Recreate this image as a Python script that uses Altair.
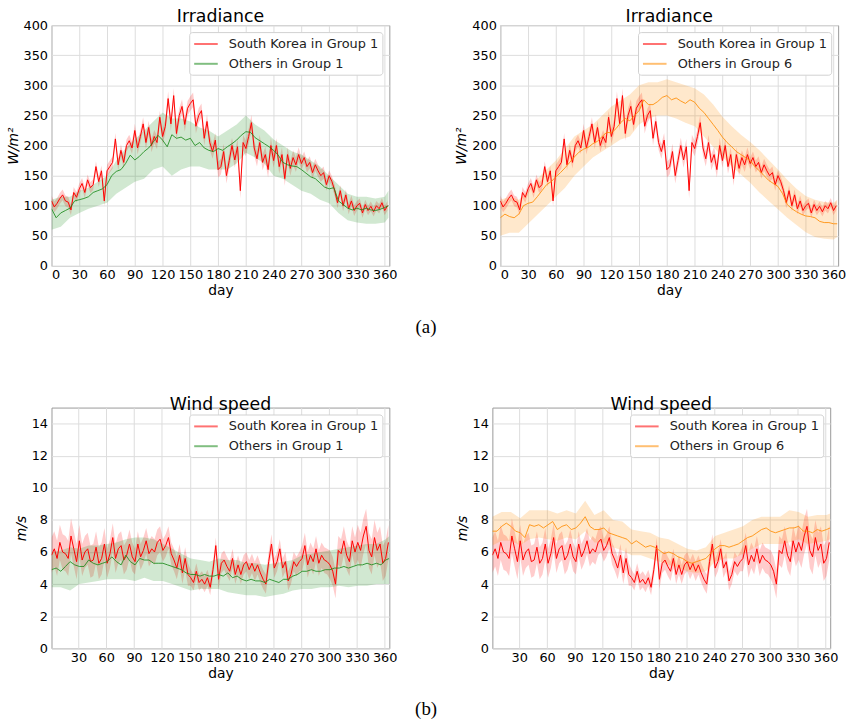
import altair as alt
import pandas as pd

SK = "South Korea in Group 1"
G1 = "Others in Group 1"
G6 = "Others in Group 6"

# ---------------- Irradiance (W/m^2) ----------------
# South Korea, every 3 days from day 0
irr_sk = [108, 98, 104, 112, 118, 108, 106, 93, 122, 114, 128, 137, 122, 143, 130, 135,
          165, 140, 158, 108, 158, 165, 172, 211, 168, 192, 172, 200, 208, 196, 225, 196,
          215, 236, 205, 230, 200, 215, 205, 247, 215, 232, 278, 236, 283, 220, 250, 265,
          235, 262, 270, 276, 232, 250, 258, 212, 240, 205, 190, 209, 160,
          165, 190, 150, 175, 200, 176, 198, 125, 205, 195, 215, 238, 196, 178, 205, 172,
          185, 160, 200, 175, 200, 165, 185, 145, 185, 162, 180, 168, 185, 170, 180, 165,
          172, 155, 168, 158, 150, 155, 135, 150, 140, 125, 105, 125, 100, 118, 95, 108,
          92, 100, 104, 88, 102, 92, 99, 90, 100, 95, 105, 92, 100]
# half width of the South Korea band, by 30-day block
irr_sk_hw = [9, 9, 10, 11, 12, 12, 13, 13, 12, 10, 9, 8, 8]

# Others in Group 1, every 5 days (0..360) and day 364
irr_g1 = [95, 80, 88, 92, 96, 108, 110, 112, 115, 122, 125, 128, 135, 150, 157, 160,
          170, 184, 176, 182, 190, 196, 206, 217, 209, 198, 218, 212, 214, 209, 212, 200,
          205, 196, 192, 190, 195, 192, 198, 203, 209, 217, 223, 222, 213, 208, 203, 198,
          192, 184, 172, 168, 166, 165, 160, 154, 148, 145, 138, 131, 128, 130, 108, 102,
          96, 93, 96, 93, 96, 93, 92, 94, 97, 100]
# Group 1 band, every 10 days (0..360) and day 364
irr_g1_lo = [60, 65, 80, 88, 95, 100, 105, 120, 130, 140, 145, 160, 165, 150, 160, 165,
             165, 160, 160, 160, 170, 188, 180, 170, 150, 145, 135, 125, 120, 110, 104,
             88, 76, 72, 70, 70, 72, 80]
irr_g1_hi = [110, 115, 115, 125, 130, 140, 150, 175, 195, 210, 225, 240, 255, 245, 245,
             240, 230, 225, 215, 225, 235, 250, 235, 225, 210, 200, 190, 185, 175, 165,
             150, 135, 120, 115, 115, 112, 115, 125]

# Others in Group 6, every 5 days (0..360) and day 364
irr_g6 = [80, 86, 82, 80, 86, 100, 104, 106, 115, 125, 135, 140, 148, 155, 163, 172,
          181, 189, 194, 197, 203, 207, 215, 222, 221, 228, 238, 245, 241, 250, 258, 276,
          268, 268, 273, 280, 283, 276, 279, 274, 270, 276, 272, 262, 255, 245, 235, 225,
          214, 205, 198, 190, 185, 180, 175, 165, 158, 150, 142, 137, 132, 120, 102, 95,
          90, 86, 83, 82, 80, 74, 72, 72, 70, 70]
irr_g6_lo = [50, 55, 55, 70, 85, 100, 115, 130, 150, 165, 180, 190, 200, 210, 215, 235,
             245, 250, 250, 245, 238, 232, 215, 198, 181, 165, 152, 138, 122, 108, 94,
             80, 68, 56, 48, 45, 44, 48]
irr_g6_hi = [110, 115, 110, 125, 145, 160, 175, 195, 215, 225, 235, 250, 265, 275, 285,
             300, 305, 305, 310, 305, 300, 295, 285, 268, 248, 232, 218, 206, 192, 176,
             160, 143, 128, 116, 110, 106, 105, 110]

# ---------------- Wind speed (m/s) ----------------
# South Korea, every 3 days from day 1
wind_sk = [5.8, 6.2, 5.6, 6.6, 6.0, 5.9, 5.6, 7.0, 6.2, 5.4, 6.7, 5.5, 6.0, 6.2, 5.4,
           5.5, 6.3, 5.3, 5.6, 6.5, 5.3, 5.9, 6.9, 5.6, 6.2, 6.4, 5.5, 5.8, 6.5, 5.7, 5.4,
           6.5, 5.7, 6.1, 6.7, 5.9, 6.2, 6.0, 6.6, 6.8, 6.1, 6.4, 6.9, 5.9, 5.5, 5.0, 5.8,
           4.7, 5.6, 4.6, 4.4, 4.1, 4.8, 4.1, 4.3, 4.0, 4.4, 3.8, 4.9, 6.4, 4.3, 5.3,
           5.5, 5.1, 4.8, 5.6, 4.6, 5.2, 4.6, 5.2, 5.4, 4.9, 5.3, 4.8, 5.2, 4.7, 4.3, 4.0,
           5.4, 6.5, 5.0, 5.4, 6.2, 5.0, 5.4, 4.2, 4.6, 5.4, 5.1, 5.4, 5.6, 6.4, 5.2, 5.8,
           5.4, 6.2, 5.3, 5.8, 5.5, 5.4, 5.2, 4.8, 4.0, 6.1, 5.9, 6.7, 5.8, 5.4, 6.7, 6.0,
           6.6, 6.1, 7.0, 7.6, 6.1, 5.7, 6.9, 6.1, 6.5, 5.3, 5.6, 6.6]
wind_sk_hw = [1.1, 1.0, 0.9, 0.8, 0.7, 0.5, 0.6, 0.6, 0.6, 0.8, 0.9, 1.1, 1.1]

# Others in Group 1, every 5 days from day 1 (1..361) and day 365
wind_g1 = [4.9, 5.0, 4.8, 5.1, 5.4, 5.2, 5.1, 5.1, 5.5, 5.3, 5.2, 5.3, 5.4, 5.7, 5.4,
           5.2, 5.8, 5.4, 5.2, 5.6, 5.5, 5.5, 5.3, 5.3, 5.3, 5.2, 5.1, 5.0, 4.9, 4.7, 4.6,
           4.6, 4.5, 4.6, 4.5, 4.5, 4.6, 4.5, 4.7, 4.4, 4.5, 4.3, 4.2, 4.3, 4.2, 4.2, 4.1,
           4.3, 4.2, 4.1, 4.3, 4.3, 4.5, 4.6, 4.8, 4.8, 4.9, 4.8, 4.8, 4.9, 4.9, 5.0, 5.0,
           5.1, 5.0, 5.1, 5.2, 5.2, 5.3, 5.2, 5.3, 5.2, 5.5, 5.6]
wind_g1_lo = [3.8, 3.8, 3.6, 4.0, 4.1, 4.2, 4.3, 4.3, 4.3, 4.2, 4.4, 4.2, 4.2, 4.0, 3.8,
              3.6, 3.7, 3.7, 3.7, 3.5, 3.4, 3.3, 3.3, 3.2, 3.3, 3.4, 3.6, 3.7, 3.7, 3.8,
              3.8, 3.9, 3.8, 3.9, 3.9, 4.0, 4.0, 4.0]
wind_g1_hi = [6.0, 6.1, 6.3, 6.2, 6.4, 6.4, 6.5, 6.6, 6.8, 6.9, 6.9, 6.8, 6.5, 6.2, 5.9,
              5.6, 5.5, 5.4, 5.6, 5.5, 5.5, 5.3, 5.3, 5.2, 5.3, 5.4, 5.5, 5.8, 5.9, 6.0,
              6.1, 6.2, 6.3, 6.4, 6.5, 6.5, 6.8, 7.0]

# Others in Group 6
wind_g6 = [7.3, 7.3, 7.6, 7.8, 7.6, 7.3, 7.2, 6.9, 7.7, 7.6, 7.7, 7.5, 7.7, 7.9, 7.4,
           7.6, 7.7, 7.4, 7.5, 7.8, 8.2, 7.6, 7.4, 7.4, 7.5, 7.2, 7.1, 7.0, 6.9, 6.8, 6.5,
           6.7, 6.5, 6.3, 6.4, 6.3, 6.1, 5.9, 6.0, 5.9, 5.7, 5.6, 5.4, 5.3, 5.4, 5.5, 5.6,
           5.9, 6.2, 6.4, 6.4, 6.3, 6.4, 6.5, 6.7, 6.9, 7.0, 7.2, 7.4, 7.5, 7.3, 7.2, 7.3,
           7.4, 7.5, 7.5, 7.6, 7.3, 7.3, 7.2, 7.4, 7.3, 7.4, 7.5]
wind_g6_lo = [6.4, 6.7, 6.7, 6.4, 6.8, 6.9, 6.8, 6.7, 6.9, 6.8, 7.3, 6.6, 6.6, 6.3, 6.1,
              5.8, 5.8, 5.6, 5.4, 5.2, 5.0, 4.8, 4.7, 4.8, 5.4, 5.6, 5.6, 5.9, 6.2, 6.5,
              6.5, 6.5, 6.6, 6.8, 6.5, 6.6, 6.7, 6.8]
wind_g6_hi = [8.2, 8.5, 8.5, 8.1, 8.6, 8.6, 8.6, 8.4, 8.6, 8.4, 9.2, 8.3, 8.6, 8.0, 7.9,
              7.4, 7.3, 7.2, 6.9, 6.8, 6.5, 6.2, 6.1, 6.3, 7.0, 7.2, 7.4, 7.6, 8.0, 8.2,
              8.2, 8.2, 8.6, 8.5, 8.2, 8.3, 8.3, 8.4]

irr_sk_days = list(range(0, 364, 3))
wind_sk_days = list(range(1, 365, 3))
irr_o_days = list(range(0, 361, 5)) + [364]
wind_o_days = list(range(1, 362, 5)) + [365]
irr_b_days = list(range(0, 361, 10)) + [364]
wind_b_days = list(range(1, 362, 10)) + [365]

FONT = "DejaVu Sans"


def panel(title, ytitle, ydom, yvals, xdom, xvals, sk_days, sk_mean, sk_hw,
          o_days, o_mean, b_days, b_lo, b_hi, o_label, o_color):
    hw = [sk_hw[min(d // 30, len(sk_hw) - 1)] for d in sk_days]
    sk_df = pd.DataFrame({"day": sk_days, "v": sk_mean,
                          "lo": [m - h for m, h in zip(sk_mean, hw)],
                          "hi": [m + h for m, h in zip(sk_mean, hw)],
                          "series": SK})
    o_df = pd.DataFrame({"day": o_days, "v": o_mean, "series": o_label})
    b_df = pd.DataFrame({"day": b_days, "lo": b_lo, "hi": b_hi})

    xs = alt.Scale(domain=xdom, nice=False, zero=False)
    ys = alt.Scale(domain=ydom, nice=False)
    xax = alt.Axis(values=xvals, title="day", format="d")
    yax = alt.Axis(values=yvals, title=ytitle, titleFontStyle="italic", format="d")
    x = alt.X("day:Q", scale=xs, axis=xax)

    cscale = alt.Scale(domain=[SK, o_label], range=["#ff0000", o_color])
    legend = alt.Legend(title=None, orient="top-right", offset=7, fillColor="white",
                        strokeColor="#d0d0d0", cornerRadius=3, padding=4,
                        labelFontSize=13, labelFont=FONT, labelColor="#222222",
                        symbolType="M-1,0H2.4", symbolStrokeWidth=2, symbolSize=196,
                        symbolOpacity=0.55, rowPadding=5, labelOffset=20)

    sk_band = alt.Chart(sk_df).mark_area(color="#ff0000", opacity=0.2, clip=True).encode(
        x=x, y=alt.Y("lo:Q", scale=ys, axis=yax), y2="hi:Q")
    o_band = alt.Chart(b_df).mark_area(color=o_color, opacity=0.2, clip=True).encode(
        x=x, y=alt.Y("lo:Q", scale=ys, axis=yax), y2="hi:Q")
    sk_line = alt.Chart(sk_df).mark_line(strokeWidth=1, clip=True).encode(
        x=x, y=alt.Y("v:Q", scale=ys, axis=yax),
        color=alt.Color("series:N", scale=cscale, legend=legend))
    o_line = alt.Chart(o_df).mark_line(strokeWidth=1, opacity=0.85, clip=True).encode(
        x=x, y=alt.Y("v:Q", scale=ys, axis=yax),
        color=alt.Color("series:N", scale=cscale, legend=legend))

    return alt.layer(sk_band, o_band, sk_line, o_line).properties(
        width=341, height=243,
        title=alt.TitleParams(title, fontSize=17.5, fontWeight="normal", font=FONT,
                              color="black", offset=-6))


irr_y = list(range(0, 401, 50))
wind_y = list(range(0, 15, 2))

p1 = panel("Irradiance", "W/m²", [0, 400], irr_y, [0, 365], list(range(0, 361, 30)),
           irr_sk_days, irr_sk, irr_sk_hw, irr_o_days, irr_g1, irr_b_days,
           irr_g1_lo, irr_g1_hi, G1, "#1a8a1a")
p2 = panel("Irradiance", "W/m²", [0, 400], irr_y, [0, 365], list(range(0, 361, 30)),
           irr_sk_days, irr_sk, irr_sk_hw, irr_o_days, irr_g6, irr_b_days,
           irr_g6_lo, irr_g6_hi, G6, "#ff8c00")
p3 = panel("Wind speed", "m/s", [0, 15], wind_y, [1, 365], list(range(30, 361, 30)),
           wind_sk_days, wind_sk, wind_sk_hw, wind_o_days, wind_g1, wind_b_days,
           wind_g1_lo, wind_g1_hi, G1, "#1a8a1a")
p4 = panel("Wind speed", "m/s", [0, 15], wind_y, [1, 365], list(range(30, 361, 30)),
           wind_sk_days, wind_sk, wind_sk_hw, wind_o_days, wind_g6, wind_b_days,
           wind_g6_lo, wind_g6_hi, G6, "#ff8c00")


def caption(t):
    return alt.TitleParams(t, orient="bottom", font="Liberation Serif", fontSize=19,
                           fontWeight="normal", color="black", offset=20, anchor="middle")


row_a = alt.hconcat(p1, p2, spacing=56).resolve_scale(color="independent").properties(
    title=caption("(a)"))
row_b = alt.hconcat(p3, p4, spacing=56).resolve_scale(color="independent").properties(
    title=caption("(b)"))

chart = alt.vconcat(row_a, row_b, spacing=59).properties(
    padding={"left": 5, "top": 4, "right": 5, "bottom": 2}
).configure_view(stroke="#999999", strokeWidth=1).configure_axis(
    labelFont=FONT, titleFont=FONT, labelFontSize=13, titleFontSize=14,
    titleFontWeight="normal", labelColor="black", titleColor="black",
    gridColor="#dddddd", gridWidth=1, domain=False, ticks=False,
    labelPadding=4, titlePadding=3
).configure_axisX(labelPadding=3, titlePadding=2)

chart.save("out.html", embed_options={"renderer": "svg", "actions": False})
